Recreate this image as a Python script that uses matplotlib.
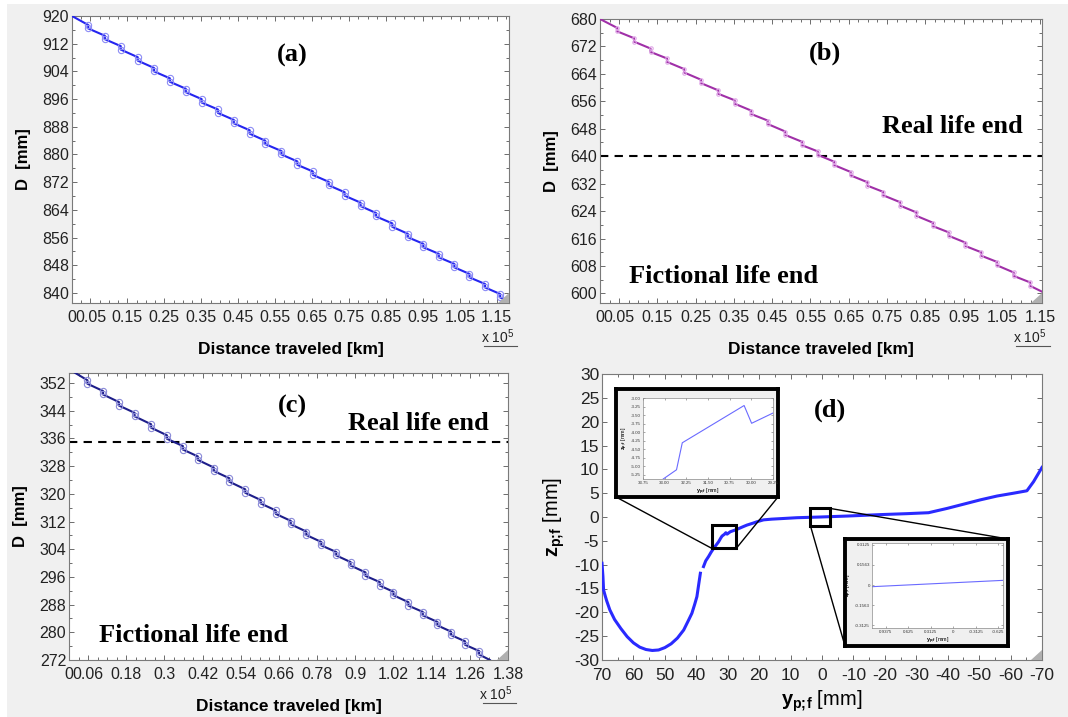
import numpy as np
import matplotlib.pyplot as plt
from matplotlib.patches import Rectangle, Polygon, ConnectionPatch
from matplotlib.ticker import MultipleLocator

plt.rcParams['font.family'] = 'Liberation Sans'
plt.rcParams['mathtext.fontset'] = 'custom'
plt.rcParams['mathtext.rm'] = 'Liberation Sans'
plt.rcParams['mathtext.bf'] = 'Liberation Sans:bold'
plt.rcParams['mathtext.it'] = 'Liberation Sans:italic'
plt.rcParams['axes.unicode_minus'] = False

W, H = 1068, 717
BG = '#f0f0f0'

# ---- panel (a): wheel diameter vs distance (x in 1e5 km) ----
a_start = (0.0, 920.0)
a_end = (1.183, 837.5)
a_step_x = [0.044, 0.089, 0.132, 0.178, 0.222, 0.265, 0.308, 0.351, 0.395, 0.438,
            0.481, 0.523, 0.567, 0.610, 0.652, 0.695, 0.738, 0.781, 0.823, 0.867,
            0.909, 0.951, 0.993, 1.035, 1.076, 1.118, 1.159]
a_hi = [917.4, 914.3, 911.3, 908.1, 905.0, 902.0, 899.0, 896.0, 893.0, 890.0,
        887.0, 884.0, 881.0, 878.0, 875.1, 872.1, 869.1, 866.1, 863.1, 860.1,
        857.1, 854.2, 851.3, 848.4, 845.5, 842.6, 839.7]
a_lo = [916.4, 913.3, 910.3, 907.1, 904.0, 901.0, 898.0, 895.0, 892.0, 889.0,
        886.0, 883.0, 880.0, 877.0, 874.1, 871.1, 868.1, 865.1, 862.1, 859.1,
        856.1, 853.2, 850.3, 847.4, 844.5, 841.6, 838.7]
a_xticks = [0, 0.05, 0.15, 0.25, 0.35, 0.45, 0.55, 0.65, 0.75, 0.85, 0.95, 1.05, 1.15]
a_xlabels = ['0', '0.05', '0.15', '0.25', '0.35', '0.45', '0.55', '0.65', '0.75',
             '0.85', '0.95', '1.05', '1.15']
a_yticks = [840, 848, 856, 864, 872, 880, 888, 896, 904, 912, 920]

# ---- panel (b) ----
b_start = (0.0, 680.0)
b_end = (1.155, 600.5)
b_step_x = [0.045, 0.089, 0.132, 0.175, 0.220, 0.264, 0.309, 0.352, 0.395, 0.438,
            0.484, 0.528, 0.569, 0.612, 0.655, 0.699, 0.740, 0.784, 0.827, 0.870,
            0.911, 0.955, 0.996, 1.037, 1.081, 1.124]
b_hi = [677.4, 674.4, 671.4, 668.5, 665.4, 662.3, 659.2, 656.3, 653.3, 650.4,
        647.2, 644.2, 641.4, 638.4, 635.4, 632.4, 629.6, 626.6, 623.6, 620.6,
        617.8, 614.8, 612.0, 609.2, 606.1, 603.2]
b_lo = [676.4, 673.4, 670.4, 667.5, 664.4, 661.3, 658.2, 655.3, 652.3, 649.4,
        646.2, 643.2, 640.4, 637.4, 634.4, 631.4, 628.6, 625.6, 622.6, 619.6,
        616.8, 613.8, 611.0, 608.2, 605.1, 602.2]
b_real_end = 640
b_yticks = [600, 608, 616, 624, 632, 640, 648, 656, 664, 672, 680]

# ---- panel (c) ----
c_start = (0.0, 356.0)
c_end = (1.323, 272.0)
c_step_x = [0.058, 0.107, 0.157, 0.206, 0.258, 0.308, 0.358, 0.405, 0.455, 0.504,
            0.554, 0.603, 0.650, 0.697, 0.746, 0.793, 0.840, 0.885, 0.932, 0.977,
            1.020, 1.067, 1.112, 1.158, 1.201, 1.245, 1.289]
c_hi = [352.8, 349.7, 346.5, 343.4, 340.1, 336.9, 333.8, 330.8, 327.6, 324.5,
        321.3, 318.2, 315.2, 312.2, 309.1, 306.1, 303.2, 300.3, 297.3, 294.5,
        291.7, 288.7, 285.9, 283.0, 280.2, 277.4, 274.6]
c_lo = [351.8, 348.7, 345.5, 342.4, 339.1, 335.9, 332.8, 329.8, 326.6, 323.5,
        320.3, 317.2, 314.2, 311.2, 308.1, 305.1, 302.2, 299.3, 296.3, 293.5,
        290.7, 287.7, 284.9, 282.0, 279.2, 276.4, 273.6]
c_real_end = 335
c_xticks = [0, 0.06, 0.18, 0.30, 0.42, 0.54, 0.66, 0.78, 0.90, 1.02, 1.14, 1.26, 1.38]
c_xlabels = ['0', '0.06', '0.18', '0.3', '0.42', '0.54', '0.66', '0.78', '0.9',
             '1.02', '1.14', '1.26', '1.38']
c_yticks = [272, 280, 288, 296, 304, 312, 320, 328, 336, 344, 352]

# ---- panel (d): contact point trajectory ----
d_y = [70.0, 69.7, 69.5, 69.0, 68.5, 67.5, 66.0, 64.0, 62.0, 60.0, 58.0, 56.0, 54.0,
       52.0, 50.0, 48.0, 46.0, 44.0, 42.5, 41.4, 40.5, 39.8, 39.2, 38.7, np.nan,
       37.7, 37.0, 36.1, 35.3, 34.5, 33.7, 32.9, 32.2, 31.8, 31.0, 30.6, 30.2, 29.2,
       27.1, 25.0, 23.9, 22.0, 20.7, 18.6, 16.0, 13.3, 8.0, 0.5, -8.0, -18.5, -27.0,
       -33.9, -39.8, -45.1, -50.4, -55.7, -61.0, -65.2, -67.3, -70.0]
d_z = [-9.7, -12.5, -15.3, -16.5, -17.6, -19.5, -21.5, -23.4, -25.1, -26.4, -27.3,
       -27.8, -28.0, -27.9, -27.4, -26.6, -25.4, -23.7, -21.7, -20.2, -18.3, -16.7,
       -14.0, -11.8, np.nan, -10.4, -9.2, -8.3, -7.4, -6.6, -5.9, -5.2, -4.4, -4.0,
       -3.6, -3.3, -3.6, -3.1, -2.6, -2.0, -1.7, -1.3, -1.0, -0.6, -0.45, -0.35, -0.15,
       0.0, 0.2, 0.5, 0.7, 0.9, 1.8, 2.7, 3.6, 4.4, 5.0, 5.5, 7.4, 10.4]
box1 = (27.3, 35.0, -6.6, -1.7)
box2 = (-2.6, 3.7, -1.8, 1.8)

# inset 1 (zoom around y=31)
i1_y = [33.05, 32.59, 32.39, 30.25, 29.99, 29.25]
i1_z = [-5.37, -5.10, -4.31, -3.22, -3.74, -3.44]
i1_xticks = [33.75, 33.00, 32.25, 31.50, 30.75, 30.00, 29.25]
i1_yticks = [-3.00, -3.25, -3.50, -3.75, -4.00, -4.25, -4.50, -4.75, -5.00, -5.25]
# inset 2 (zoom around y=0)
i2_y = [1.13, -0.692]
i2_z = [-0.013, 0.036]
i2_xticks = [0.9375, 0.625, 0.3125, 0, -0.3125, -0.625]
i2_xlabels = ['0.9375', '0.625', '0.3125', '0', '-0.3125', '-0.625']
i2_yticks = [0.3125, 0.1563, 0, -0.1563, -0.3125]
i2_ylabels = ['0.3125', '0.1563', '0', '-0.1563', '-0.3125']

YLAB = r'$\mathbf{y_{p;\!f}}$ [mm]'
ZLAB = r'$\mathbf{z_{p;\!f}}$ [mm]'


def rect(l, t, r, b):
    return [l / W, 1 - b / H, (r - l) / W, (b - t) / H]


fig = plt.figure(figsize=(W / 100, H / 100), dpi=100, facecolor=BG)
fig.patches.append(Rectangle((0, 1 - 4 / H), 1, 4 / H, transform=fig.transFigure,
                             facecolor='white', edgecolor='none', zorder=-1))
fig.patches.append(Rectangle((0, 0), 7 / W, 1, transform=fig.transFigure,
                             facecolor='white', edgecolor='none', zorder=-1))


def style(ax, size=11.5, xpad=5):
    for s in ax.spines.values():
        s.set_color('#7a7a7a')
        s.set_linewidth(0.8)
    ax.tick_params(which='both', direction='in', top=True, right=True,
                   color='#555555', width=0.6)
    ax.tick_params(which='major', length=3.5, labelsize=size, labelcolor='#222222')
    ax.tick_params(which='minor', length=2)
    ax.tick_params(axis='x', pad=xpad)
    ax.tick_params(axis='y', pad=2)
    # resize grip in the corner
    ax.add_patch(Polygon([(1.0, 0.0), (1.0, 0.035), (0.975, 0.0)], closed=True,
                         transform=ax.transAxes, facecolor='#b0b0b0',
                         edgecolor='none', zorder=5))


def wear_panel(r, start, end, sx, hi, lo, xlim, ylim, xticks, xlabels, yticks,
               color, mcolor, ms):
    ax = fig.add_axes(r)
    ax.set_facecolor('white')
    xs = np.concatenate([[start[0]], np.repeat(sx, 2), [end[0]]])
    ys = np.concatenate([[start[1]], np.column_stack([hi, lo]).ravel(), [end[1]]])
    ax.plot(xs, ys, color=color, lw=1.5, zorder=3)
    ax.plot(sx, hi, 'o', mfc='none', mec=mcolor, ms=ms, mew=0.8, zorder=4)
    ax.plot(sx, lo, 'o', mfc='none', mec=mcolor, ms=ms, mew=0.8, zorder=4)
    ax.set_xlim(*xlim)
    ax.set_ylim(*ylim)
    ax.set_xticks(xticks)
    ax.set_xticklabels(xlabels)
    ax.set_yticks(yticks)
    ax.yaxis.set_minor_locator(MultipleLocator(4))
    ax.xaxis.set_minor_locator(MultipleLocator(0.025))
    style(ax)
    ax.set_xlabel('Distance traveled [km]', fontsize=12.5, fontweight='bold', labelpad=12)
    ax.set_ylabel('D  [mm]', fontsize=12, fontweight='bold', labelpad=8)
    ax.text(0.973, -0.118, r'x 10$^5$', transform=ax.transAxes, fontsize=10,
            ha='center', va='center', color='#222222')
    ax.plot([0.942, 1.018], [-0.15, -0.15], transform=ax.transAxes, color='#555555',
            lw=0.8, clip_on=False)
    return ax


serif = dict(family='Liberation Serif', fontweight='bold', fontsize=19, color='black')

ax_a = wear_panel(rect(72, 16, 509, 303), a_start, a_end, a_step_x, a_hi, a_lo,
                  (0, 1.183), (837.1, 920), a_xticks, a_xlabels, a_yticks,
                  '#2525f0', '#8c8cf5', 4.5)
ax_a.text(0.503, 0.864, '(a)', transform=ax_a.transAxes, ha='center', va='center', **serif)

ax_b = wear_panel(rect(600, 19, 1042, 303), b_start, b_end, b_step_x, b_hi, b_lo,
                  (0, 1.155), (597.2, 680), a_xticks, a_xlabels, b_yticks,
                  '#a030a8', '#e0a8e8', 2.5)
ax_b.axhline(b_real_end, color='black', ls=(0, (4, 3)), lw=1.5, zorder=2)
ax_b.text(0.509, 0.880, '(b)', transform=ax_b.transAxes, ha='center', va='center', **serif)
ax_b.text(0.638, 0.620, 'Real life end', transform=ax_b.transAxes, ha='left',
          va='center', **serif)
ax_b.text(0.066, 0.092, 'Fictional life end', transform=ax_b.transAxes, ha='left',
          va='center', **serif)

ax_c = wear_panel(rect(69, 373, 508, 660), c_start, c_end, c_step_x, c_hi, c_lo,
                  (0, 1.38), (272, 354.9), c_xticks, c_xlabels, c_yticks,
                  '#1e1e8a', '#8a8ad8', 4.5)
ax_c.xaxis.set_minor_locator(MultipleLocator(0.03))
ax_c.axhline(c_real_end, color='black', ls=(0, (4, 3)), lw=1.5, zorder=2)
ax_c.text(0.508, 0.882, '(c)', transform=ax_c.transAxes, ha='center', va='center', **serif)
ax_c.text(0.636, 0.825, 'Real life end', transform=ax_c.transAxes, ha='left',
          va='center', **serif)
ax_c.text(0.068, 0.084, 'Fictional life end', transform=ax_c.transAxes, ha='left',
          va='center', **serif)

# ---- panel (d) ----
ax_d = fig.add_axes(rect(602, 374, 1042, 660))
ax_d.plot(d_y, d_z, color='#2a2aff', lw=2.2, zorder=3)
ax_d.set_xlim(70, -70)
ax_d.set_ylim(-30, 30)
ax_d.set_xticks(np.arange(70, -71, -10))
ax_d.set_yticks(np.arange(-30, 31, 5))
ax_d.xaxis.set_minor_locator(MultipleLocator(5))
style(ax_d, size=12.5, xpad=6)
ax_d.set_xlabel(YLAB, fontsize=14.5, labelpad=4)
ax_d.set_ylabel(ZLAB, fontsize=14.5, labelpad=5)
ax_d.text(0.518, 0.874, '(d)', transform=ax_d.transAxes, ha='center', va='center', **serif)

for bx in (box1, box2):
    ax_d.add_patch(Rectangle((bx[0], bx[2]), bx[1] - bx[0], bx[3] - bx[2],
                             facecolor='none', edgecolor='black', lw=2.2, zorder=6))


def inset(outer, inner, y, z, xlim, ylim, xt, xl, yt, yl):
    frame = fig.add_axes(outer)
    frame.set_facecolor(BG)
    frame.set_xticks([])
    frame.set_yticks([])
    for s in frame.spines.values():
        s.set_color('black')
        s.set_linewidth(2.8)
    ax = fig.add_axes(inner)
    ax.plot(y, z, color='#6a6aff', lw=0.8)
    ax.set_xlim(*xlim)
    ax.set_ylim(*ylim)
    ax.set_xticks(xt)
    ax.set_xticklabels(xl)
    ax.set_yticks(yt)
    ax.set_yticklabels(yl)
    for s in ax.spines.values():
        s.set_color('#8a8a8a')
        s.set_linewidth(0.5)
    ax.tick_params(direction='in', top=True, right=True, length=1.5, width=0.4,
                   labelsize=3.2, pad=1.5, color='#666666', labelcolor='#333333')
    ax.set_xlabel(YLAB, fontsize=4, labelpad=1)
    ax.set_ylabel(ZLAB, fontsize=4, labelpad=1)
    return frame


fr1 = inset(rect(616, 389, 778, 497), rect(643, 398, 773, 479), i1_y, i1_z,
            (33.75, 29.25), (-5.37, -3.0), i1_xticks,
            ['%.2f' % v for v in i1_xticks], i1_yticks,
            ['%.2f' % v for v in i1_yticks])
fr2 = inset(rect(845, 539, 1008, 646), rect(872, 543, 1003, 628), i2_y, i2_z,
            (1.13, -0.692), (-0.333, 0.3254), i2_xticks, i2_xlabels, i2_yticks,
            i2_ylabels)

links = [((box1[1], box1[2]), fr1, (0, 0)), ((box1[0], box1[2]), fr1, (1, 0)),
         ((box2[0], box2[3]), fr2, (1, 1)), ((box2[1], box2[2]), fr2, (0, 0))]
for xy, fr, corner in links:
    cp = ConnectionPatch(xyA=xy, coordsA=ax_d.transData, xyB=corner,
                         coordsB=fr.transAxes, color='black', lw=1.0, zorder=7)
    fig.add_artist(cp)

fig.savefig('out.png', dpi=100, facecolor=BG)
